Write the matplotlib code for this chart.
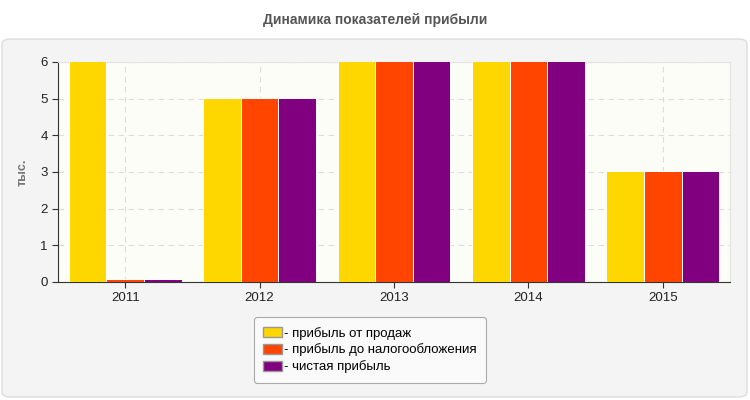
import numpy as np
import matplotlib.pyplot as plt
import matplotlib.patches as mpatches
from matplotlib.patches import FancyBboxPatch, Rectangle

# DATA
years = ["2011", "2012", "2013", "2014", "2015"]
sales_profit = [6.03, 5.03, 6.03, 6.03, 3.03]
pretax_profit = [0.08, 5.03, 6.03, 6.03, 3.03]
net_profit = [0.08, 5.03, 6.03, 6.03, 3.03]

series_names = ["- прибыль от продаж", "- прибыль до налогообложения", "- чистая прибыль"]
colors = ["#FFD700", "#FF4500", "#800080"]

plt.rcParams["font.family"] = ["Liberation Sans", "DejaVu Sans"]
plt.rcParams["hatch.linewidth"] = 0.7
plt.rcParams["hatch.color"] = "#e9e9e0"

fig = plt.figure(figsize=(7.5, 4), dpi=100)
fig.patch.set_facecolor("white")

# outer grey panel
panel = FancyBboxPatch((2 / 750, 3 / 400), 745 / 750, 358 / 400,
                       boxstyle="round,pad=0,rounding_size=0.012",
                       transform=fig.transFigure, facecolor="#f4f4f4",
                       edgecolor="#dddddd", linewidth=1.0, zorder=-10)
fig.patches.append(panel)

fig.text(0.5, 1 - 20 / 400, "Динамика показателей прибыли", ha="center", va="center",
         fontsize=10, fontweight="bold", color="#555555")

ax = fig.add_axes([58 / 750, 1 - 282 / 400, 672 / 750, 220 / 400])
ax.set_facecolor("#fdfdf8")
ax.add_patch(Rectangle((0, 0), 1, 1, transform=ax.transAxes, facecolor="none",
                       edgecolor="none", hatch="/////", zorder=0))

x = np.arange(len(years))
w = 0.28
for i, (vals, c) in enumerate(zip([sales_profit, pretax_profit, net_profit], colors)):
    ax.bar(x + (i - 1) * w, vals, width=w, color=c, edgecolor="white",
           linewidth=0.7, zorder=3)

ax.set_xlim(-0.5, len(years) - 0.5)
ax.set_ylim(0, 6)
ax.set_yticks(range(0, 7))
ax.set_xticks(x)
ax.set_xticklabels(years)
ax.tick_params(axis="both", labelsize=9.5, color="#333333", labelcolor="#222222", length=4)
ax.grid(True, linestyle=(0, (5, 4)), color="#dcdcdc", linewidth=0.8, zorder=1)
ax.set_axisbelow(True)

ax.spines["left"].set_color("#333333")
ax.spines["bottom"].set_color("#333333")
ax.spines["top"].set_color("#e3e3e3")
ax.spines["right"].set_color("#e3e3e3")

ax.set_ylabel("тыс.", fontsize=9, color="#777777", fontweight="bold", labelpad=8)

handles = [mpatches.Patch(facecolor=c, edgecolor="#999999", label=n)
           for c, n in zip(colors, series_names)]
leg = fig.legend(handles=handles, loc="center", bbox_to_anchor=(370 / 750, 1 - 350 / 400),
                 fontsize=9.5, frameon=True, fancybox=True, handlelength=1.4,
                 handleheight=0.8, handletextpad=0.2, labelspacing=0.3,
                 borderpad=0.7, facecolor="#fafafa", edgecolor="#aaaaaa")
leg.get_frame().set_alpha(1)
leg.get_frame().set_linewidth(0.8)

plt.savefig("out.png", dpi=100, facecolor=fig.get_facecolor())
